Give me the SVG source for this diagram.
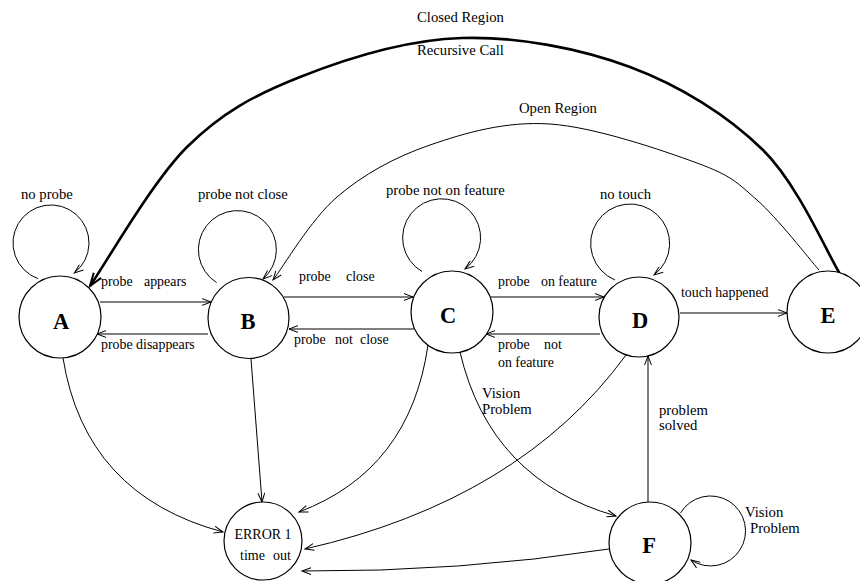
<svg xmlns="http://www.w3.org/2000/svg" width="860" height="581" viewBox="0 0 860 581">
<style>
.node{fill:#fff;stroke:#000;stroke-width:1.2}
.lbl{font-family:"Liberation Serif","Times New Roman",serif;font-size:14.7px;fill:#000}
.sm{font-size:13.9px}
.big{font-family:"Liberation Serif","Times New Roman",serif;font-size:22.5px;font-weight:bold;fill:#000;text-anchor:middle}
.err{font-family:"Liberation Serif","Times New Roman",serif;font-size:14px;fill:#000}
.e{fill:none;stroke:#000;stroke-width:1;marker-end:url(#arr)}
.thick{fill:none;stroke:#000;stroke-width:2.6;marker-end:url(#arrT)}
</style>
<defs>
<marker id="arr" markerUnits="userSpaceOnUse" markerWidth="12" markerHeight="8" refX="10" refY="4" orient="auto"><path d="M1,0.6 L10,4 L1,7.4" fill="none" stroke="#000" stroke-width="1"/></marker>
<marker id="arrT" markerUnits="userSpaceOnUse" markerWidth="16" markerHeight="12" refX="14" refY="6" orient="auto"><path d="M1,1.5 L14,6 L1,10.5" fill="none" stroke="#000" stroke-width="2"/></marker>
</defs>
<rect width="860" height="581" fill="#fff"/>
<g id="connectors">
<path class="thick" d="M840,274 C827.2,253.3 798,184.5 763,150 C728,115.5 680.2,85.7 630,67 C579.8,48.3 517,36.3 462,38 C407,39.7 345.8,58.8 300,77 C254.2,95.2 222,112.2 187,147 C152,181.8 106.2,262.8 90,286"/>
<path class="e" d="M819,270 C808.7,258.3 777.3,217.8 757,200 C736.7,182.2 731.5,175.7 697,163 C662.5,150.3 594.5,127 550,124 C505.5,121 465.5,132.8 430,145 C394.5,157.2 363.2,174.5 337,197 C310.8,219.5 283.7,266.2 273,280"/>
<path class="e" d="M38.1,278.7 A38,38 0 1 1 74.4,272.9"/>
<path class="e" d="M216.6,282.6 A39,39 0 1 1 263,279"/>
<path class="e" d="M422,271.5 A39,39 0 1 1 465,269"/>
<path class="e" d="M615,280 A39.5,39.5 0 1 1 654,275"/>
<path class="e" d="M680.5,513 A35,35 0 1 1 691,560"/>
<path class="e" d="M100,302 L211,302"/>
<path class="e" d="M208,334 L97,334"/>
<path class="e" d="M284,297 L413,297"/>
<path class="e" d="M414,329 L289,329"/>
<path class="e" d="M491,297 L604,297"/>
<path class="e" d="M600,334 L486,334"/>
<path class="e" d="M680,313 L787,313"/>
<path class="e" d="M648,502 L648,356"/>
<path class="e" d="M251,359 L262,502"/>
<path class="e" d="M63,358 Q85,495 223,532"/>
<path class="e" d="M428,345 Q410,470 299,512"/>
<path class="e" d="M626,355 Q520,500 305,549"/>
<path class="e" d="M460,352 Q490,480 616,516"/>
<path class="e" d="M609,549 Q460,572 302,571"/>
</g>
<g id="labels" class="lbl">
<text x="417" y="22">Closed Region</text>
<text x="417" y="55">Recursive Call</text>
<text x="519" y="113">Open Region</text>
<text x="21" y="199">no probe</text>
<text x="198" y="199">probe not close</text>
<text x="386" y="195">probe not on feature</text>
<text x="600" y="199">no touch</text>
<text class="sm" y="286"><tspan x="101">probe</tspan><tspan x="144">appears</tspan></text>
<text class="sm" x="101" y="349">probe disappears</text>
<text class="sm" y="281"><tspan x="299">probe</tspan><tspan x="346">close</tspan></text>
<text class="sm" y="344"><tspan x="294">probe</tspan><tspan x="335">not</tspan><tspan x="360">close</tspan></text>
<text class="sm" y="286"><tspan x="498">probe</tspan><tspan x="541">on feature</tspan></text>
<text class="sm" y="349"><tspan x="498">probe</tspan><tspan x="544">not</tspan></text>
<text class="sm" x="498" y="367">on feature</text>
<text class="sm" x="681" y="297">touch happened</text>
<text x="482" y="398">Vision</text>
<text x="482" y="414">Problem</text>
<text x="659" y="415">problem</text>
<text x="659" y="430">solved</text>
<text x="745" y="517">Vision</text>
<text x="750" y="533">Problem</text>
</g>
<g id="node-A"><circle class="node" cx="60" cy="317" r="41"/><text class="big" x="61" y="329">A</text></g>
<g id="node-B"><circle class="node" cx="248.5" cy="318" r="40.5"/><text class="big" x="248" y="329">B</text></g>
<g id="node-C"><circle class="node" cx="452" cy="312" r="41"/><text class="big" x="448" y="323">C</text></g>
<g id="node-D"><circle class="node" cx="639" cy="317" r="40"/><text class="big" x="640" y="328">D</text></g>
<g id="node-E"><circle class="node" cx="828" cy="312" r="41"/><text class="big" x="828" y="323">E</text></g>
<g id="node-ERROR"><circle class="node" cx="263" cy="541" r="39"/><text class="err" x="263" y="539" text-anchor="middle">ERROR 1</text><text class="err" y="560"><tspan x="240">time</tspan><tspan x="273">out</tspan></text></g>
<g id="node-F"><circle class="node" cx="650" cy="543" r="41"/><text class="big" x="649" y="553">F</text></g>
</svg>
